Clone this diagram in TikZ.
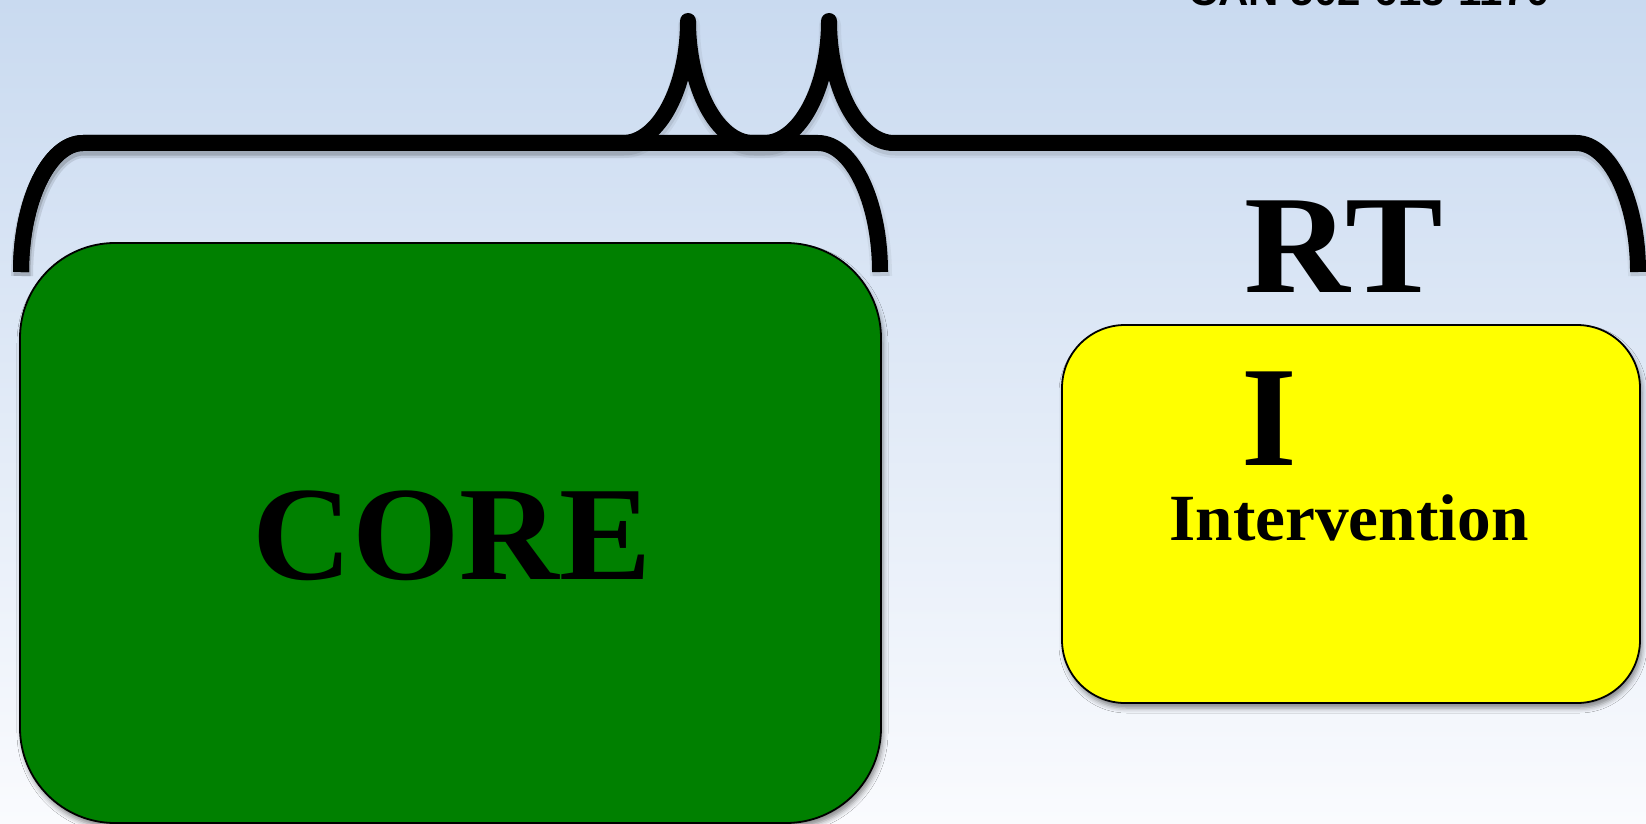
\documentclass[tikz,border=0pt]{standalone}
\usepackage{fontspec}
\usepackage{graphicx}
\setmainfont{Liberation Serif}
\newfontfamily\headsans{Liberation Sans}
\usetikzlibrary{shadows.blur}
\definecolor{bgtop}{RGB}{201,218,240}
\definecolor{bgbot}{RGB}{250,251,254}
\definecolor{coregreen}{RGB}{0,128,0}
\definecolor{intyellow}{RGB}{255,255,0}
\begin{document}
\begin{tikzpicture}[x=1pt,y=-1pt,
  bracepath/.style={draw=black, line width=16pt, line join=round, line cap=butt},
  braceshadowA/.style={draw=black, draw opacity=0.05, line width=22pt, line join=round, line cap=butt},
  braceshadowB/.style={draw=black, draw opacity=0.08, line width=17pt, line join=round, line cap=butt},
  roundbox/.style={draw=black, line width=1.8pt, inner sep=0pt,
    blur shadow={shadow xshift=2pt, shadow yshift=-5pt, shadow blur radius=5pt, shadow opacity=45}},
  bigbold/.style={font=\bfseries\fontsize{#1}{#1}\selectfont, anchor=base, inner sep=0pt},
  braceA/.style={insert path={(21,272) .. controls (21,201) and (49,143) .. (83,143) -- (623,143) .. controls (659,143) and (688,87) .. (688,21) .. controls (688,87) and (717,143) .. (753,143) -- (818,143) .. controls (852,143) and (880,201) .. (880,272)}},
  braceB/.style={insert path={(21,272) .. controls (21,201) and (49,143) .. (83,143) -- (764,143) .. controls (800,143) and (829,87) .. (829,21) .. controls (829,87) and (858,143) .. (894,143) -- (1576,143) .. controls (1610,143) and (1638,201) .. (1638,272)}},
]
\useasboundingbox (0,0) rectangle (1646,824);
\clip (0,0) rectangle (1646,824);
\shade[top color=bgtop, bottom color=bgbot] (0,0) rectangle (1646,824);

% phone text (cut at top edge, as in the reference)
\node[font=\headsans\bfseries\fontsize{42}{44}\selectfont, anchor=base, inner sep=0pt] (phone) at (1369,6) {CAN 502-613-1170};

% brace shadows
\begin{scope}[shift={(1,4)}]
\draw[braceshadowA, braceA];
\draw[braceshadowA, braceB];
\draw[braceshadowB, braceA];
\draw[braceshadowB, braceB];
\end{scope}

% braces
\draw[bracepath, braceA];
\draw[bracepath, braceB];

% boxes
\node[roundbox, fill=coregreen, minimum width=861pt, minimum height=580pt, rounded corners=95pt] (core) at (450.5,533) {};
\node[roundbox, fill=intyellow, minimum width=578pt, minimum height=378pt, rounded corners=63pt] (interv) at (1351,514) {};

% texts
\node[bigbold=134] (coretext) at (452,579) {\scalebox{1.03}[1]{CORE}};
\node[bigbold=140] (rt) at (1344,292) {\scalebox{1.045}[1]{RT}};
\node[bigbold=143] (ibig) at (1269,465) {I};
\node[bigbold=66] (intertext) at (1349,540) {\scalebox{1.02}[1]{Intervention}};
\end{tikzpicture}
\end{document}
